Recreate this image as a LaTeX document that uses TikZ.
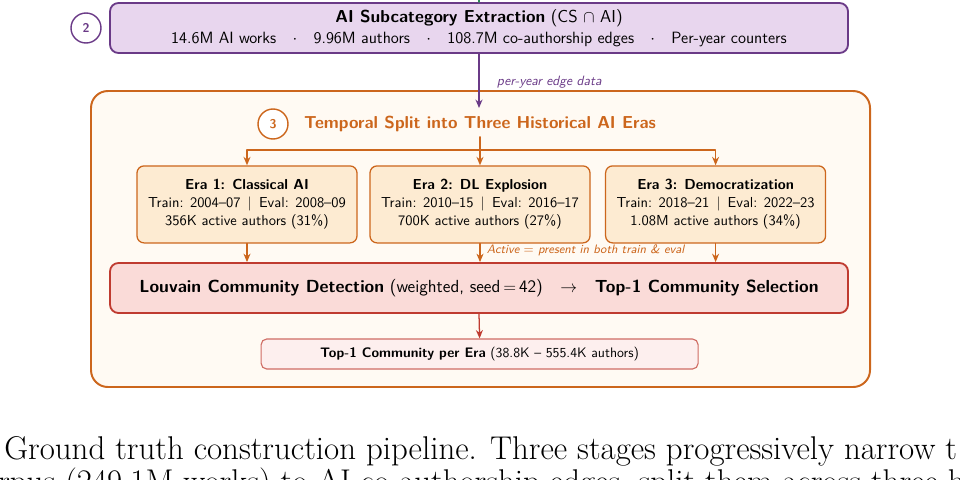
\documentclass[tikz,border=0pt]{standalone}
\usetikzlibrary{arrows.meta}
\definecolor{pplD}{HTML}{6A3A87}
\definecolor{pplL}{HTML}{E8D6EE}
\definecolor{grnD}{HTML}{2E8B57}
\definecolor{orgD}{HTML}{CC661C}
\definecolor{orgL}{HTML}{FDEBD2}
\definecolor{orgBg}{HTML}{FFFAF3}
\definecolor{redD}{HTML}{BF3B30}
\definecolor{redL}{HTML}{FADBD8}
\definecolor{redBg}{HTML}{FDEFEE}
\begin{document}
\begin{tikzpicture}[line cap=round, line join=round, font=\sffamily,
    stagebox/.style={rounded corners=6pt, line width=1.3pt, minimum width=18.45cm, minimum height=1.25cm, align=center},
    erabox/.style={draw=orgD, fill=orgL, rounded corners=5pt, line width=0.9pt, minimum width=5.5cm, minimum height=1.925cm, align=center, font=\sffamily\fontsize{10.3}{12.8}\selectfont},
    numcirc/.style={circle, draw, fill=white, line width=1pt, minimum size=0.75cm, inner sep=0pt, font=\sffamily\bfseries\fontsize{9}{9}\selectfont},
    flow/.style={-{Stealth[length=6pt,width=5pt]}, line width=0.9pt}]
  \useasboundingbox (0,0) rectangle (24,-11.975);
  \clip (0,0) rectangle (24,-11.975);
  % stage 2
  \node[numcirc, draw=pplD, text=pplD] (c2) at (2.15,-0.7) {2};
  \node[stagebox, draw=pplD, fill=pplL, inner sep=1pt] (extract) at (11.975,-0.7)
    {{\fontsize{12.3}{13}\selectfont\textbf{AI Subcategory Extraction} (CS $\cap$ AI)}\\[2.5pt]
     {\fontsize{11.6}{13}\selectfont 14.6M AI works\quad$\cdot$\quad 9.96M authors\quad$\cdot$\quad 108.7M co-authorship edges\quad$\cdot$\quad Per-year counters}};
  \coordinate (topin) at (11.975,0);
  \draw[grnD, line width=0.9pt] (topin) -- (extract.north);
  % stage 3
  \node[draw=orgD, fill=orgBg, rounded corners=12pt, line width=1.4pt, minimum width=19.475cm, minimum height=7.4cm] (outer) at (12.0125,-5.975) {};
  \coordinate (splitin) at (11.975,-2.7);
  \draw[flow, pplD] (extract.south) -- (splitin);
  \node[anchor=west, text=pplD, font=\sffamily\itshape\fontsize{9.6}{11}\selectfont] (edgelbl) at (12.3,-2.05) {per-year edge data};
  \node[numcirc, draw=orgD, text=orgD] (c3) at (6.825,-3.1) {3};
  \node[text=orgD, font=\sffamily\bfseries\fontsize{12.3}{14}\selectfont] (split) at (12.0,-3.1) {Temporal Split into Three Historical AI Eras};
  \node[erabox] (era1) at (6.175,-5.11) {\textbf{Era 1: Classical AI}\\Train: 2004--07\enspace$|$\enspace Eval: 2008--09\\356K active authors (31\%)};
  \node[erabox] (era2) at (12.0,-5.11) {\textbf{Era 2: DL Explosion}\\Train: 2010--15\enspace$|$\enspace Eval: 2016--17\\700K active authors (27\%)};
  \node[erabox] (era3) at (17.89,-5.11) {\textbf{Era 3: Democratization}\\Train: 2018--21\enspace$|$\enspace Eval: 2022--23\\1.08M active authors (34\%)};
  \coordinate (fork) at (12.0,-3.75);
  \draw[flow, orgD] (split.south -| era2.north) -- (era2.north);
  \draw[flow, orgD] (fork) -| (era1.north);
  \draw[flow, orgD] (fork) -| (era3.north);
  % community detection
  \node[stagebox, draw=redD, fill=redL, font=\sffamily\fontsize{12.45}{14}\selectfont] (louvain) at (11.975,-7.2)
    {\textbf{Louvain Community Detection} (weighted, seed\,$=$\,42)\quad$\rightarrow$\quad\textbf{Top-1 Community Selection}};
  \foreach \e in {era1,era2,era3} \draw[flow, orgD] (\e.south) -- (\e.south |- louvain.north);
  \node[anchor=west, text=orgD, font=\sffamily\itshape\fontsize{8.7}{10}\selectfont] (activelbl) at (12.05,-6.25) {Active $=$ present in both train \& eval};
  \node[draw=redD!75, fill=redBg, rounded corners=4pt, line width=0.8pt, minimum width=10.925cm, minimum height=0.75cm, font=\sffamily\fontsize{9.8}{11}\selectfont] (topone) at (11.99,-8.85)
    {\textbf{Top-1 Community per Era} (38.8K -- 555.4K authors)};
  \draw[flow, redD] (louvain.south) -- (topone.north);
  % caption
  \node[anchor=base west, inner sep=0pt, font=\rmfamily\fontsize{23.4}{28}\selectfont] (cap1) at (0.1,-11.48) {Ground truth construction pipeline. Three stages progressively narrow t};
  \node[anchor=base west, inner sep=0pt, font=\rmfamily\fontsize{23.4}{28}\selectfont] (cap2) at (-0.05,-12.3) {rpus (249.1M works) to AI co-authorship edges, split them across three h};
\end{tikzpicture}
\end{document}
